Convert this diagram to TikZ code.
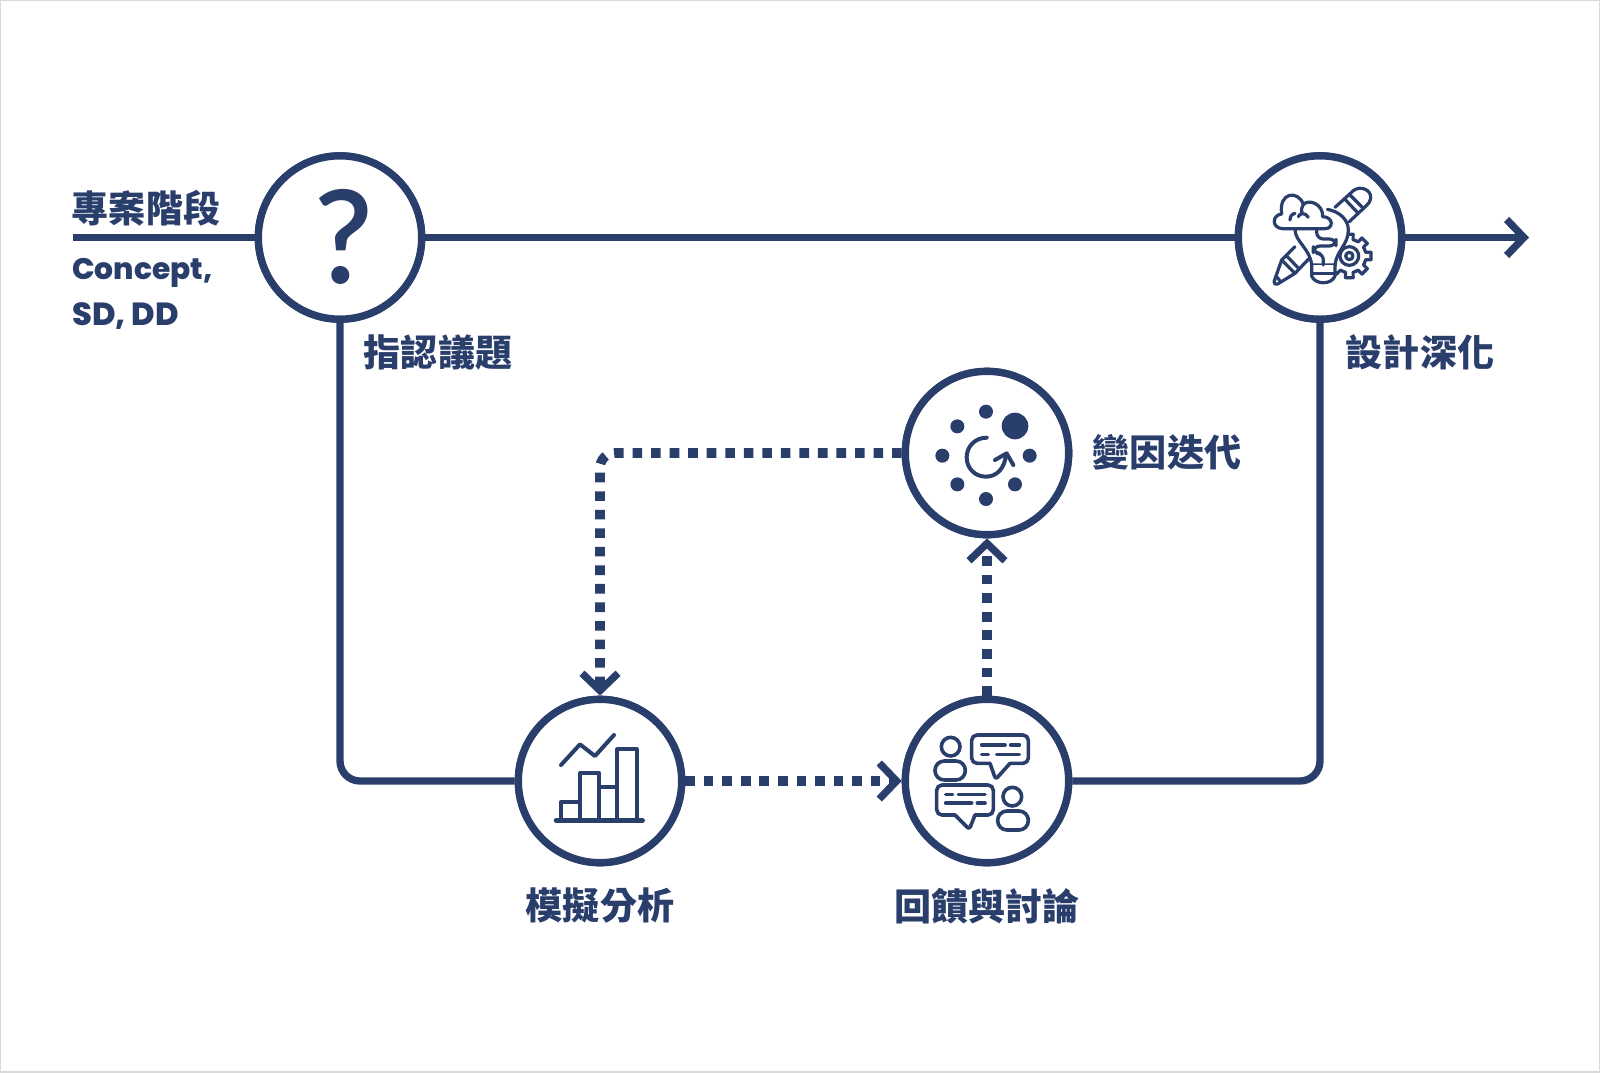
\documentclass[tikz,border=0pt]{standalone}
\usepackage{fontspec}
\usetikzlibrary{arrows.meta}
\newfontfamily\cjkfont{Noto Sans CJK TC}
\newfontfamily\latinfont{Poppins ExtraBold}
\newfontfamily\qfont{Lato Semibold}
\definecolor{navy}{HTML}{2A3E6C}
\tikzset{
  hub/.style={circle,draw=navy,line width=5.5pt,minimum size=122.5pt,inner sep=0pt,fill=white},
  solidline/.style={draw=navy,line width=5.5pt},
  dotline/.style={draw=navy,line width=7.2pt,dash pattern=on 7.2pt off 6.7pt,line cap=butt},
  barb/.style={-{Straight Barb[length=13pt,width=27pt,line width=5.5pt]}},
  zh/.style={font=\cjkfont\bfseries\fontsize{27.8}{32}\selectfont,text=navy,inner sep=0pt},
  en/.style={font=\latinfont\fontsize{22.3}{26}\selectfont,text=navy,inner sep=0pt,anchor=base west},
  zoomed/.style={x=.25pt,y=-.25pt},
  ico/.style={draw=navy,line width=3pt,line cap=round,line join=round},
  icofine/.style={draw=navy,line width=2.7pt,line cap=round,line join=round},
  icothin/.style={draw=navy,line width=2.4pt,line cap=round,line join=round},
}
\begin{document}
\begin{tikzpicture}[x=.75pt,y=-.75pt]
\useasboundingbox (0,0) rectangle (1600,1072);
\fill[white] (0,0) rectangle (1600,1072);
\draw[black!15,line width=1.5pt] (0,0) rectangle (1600,1072);
% hubs
\node[hub] (q) at (340,237.5) {};
\node[hub] (design) at (1320,237.5) {};
\node[hub] (var) at (987,453) {};
\node[hub] (model) at (600,781) {};
\node[hub] (fb) at (987,781) {};
\coordinate (start) at (73,237.5);
\coordinate (end) at (1529,237.5);
% connectors
\draw[solidline] (start) -- (q);
\draw[solidline] (q) -- (design);
\draw[solidline,barb] (design) -- (end);
\draw[solidline,rounded corners=15pt] (q.south) |- (model.west);
\draw[solidline,rounded corners=15pt] (fb.east) -| (design.south);
\draw[dotline,barb] (model.east) -- (fb.west);
\draw[dotline,barb] (fb.north) -- (var.south);
\draw[dotline,barb,rounded corners=11pt] (var.west) -| (model.north);
% redraw hub discs on top of the lines
\node[hub] at (q) {};
\node[hub] at (design) {};
\node[hub] at (var) {};
\node[hub] at (model) {};
\node[hub] at (fb) {};
% question mark
\node[text=navy,inner sep=0pt,font=\qfont\fontsize{97}{97}\selectfont] (qm) at (344,237) {?};
% labels
\node[zh] (l1) at (146,208) {專案階段};
\node[en] (l2) at (72,279) {Concept,};
\node[en,font=\latinfont\fontsize{24}{26}\selectfont] (l3) at (72,325) {SD, DD};
\node[zh] (l4) at (438,353) {指認議題};
\node[zh] (l5) at (1420,352) {設計深化};
\node[zh] (l6) at (1167,452) {變因迭代};
\node[zh] (l7) at (600,906) {模擬分析};
\node[zh] (l8) at (987,906) {回饋與討論};
% icon: iterate
\begin{scope}[shift={(880,350)},zoomed]
  \foreach \p in {(318,185),(232,229),(187,317),(232,403),(318,447),(405,403),(449,317)}
    \fill[navy] \p circle[radius=21];
  \fill[navy] (405,228) circle[radius=40];
  \draw[ico] (320,263) .. controls (285,263) and (260,290) .. (260,322) .. controls (260,355) and (285,380) .. (318,380) .. controls (350,380) and (375,355) .. (378,312);
  \draw[ico] (345,330) -- (380,310) -- (400,345);
\end{scope}
% icon: chart
\begin{scope}[shift={(500,680)},zoomed]
  \draw[ico,line width=3.3pt] (168,421) -- (428,421);
  \draw[ico,line cap=butt,line join=round] (184,421) |- (240,365);
  \draw[ico,line cap=butt] (240,421) |- (298,280) -- (298,421);
  \draw[ico,line cap=butt] (298,322) -| (352,421);
  \draw[ico,line cap=butt] (352,421) |- (410,208) -- (410,421);
  \draw[ico] (183,255) -- (240,193) -- (285,228) -- (342,165);
\end{scope}
% icon: discussion
\begin{scope}[shift={(880,680)},zoomed]
  \draw[icofine] (212,200) circle[radius=28];
  \draw[icofine,rounded corners=7pt] (165,243) rectangle (256,300);
  \draw[icofine] (397,350) circle[radius=28];
  \draw[icofine,rounded corners=7pt] (353,393) rectangle (445,450);
  \draw[icofine,rounded corners=4pt] (330,250) -- (275,250) -- (275,165) -- (445,165) -- (445,250) -- (390,250);
  \draw[icofine,rounded corners=2pt] (330,250) -- (347,298) -- (390,250);
  \draw[icofine] (305,195) -- (375,195) (392,195) -- (418,195) (305,223) -- (325,223) (350,223) -- (418,223);
  \draw[icofine,rounded corners=4pt] (225,405) -- (170,405) -- (170,315) -- (340,315) -- (340,405) -- (285,405);
  \draw[icofine,rounded corners=2pt] (225,405) -- (268,448) -- (285,405);
  \draw[icofine] (197,343) -- (218,343) (235,343) -- (315,343) (197,369) -- (275,369) (292,369) -- (315,369);
\end{scope}
% icon: design
\begin{scope}[shift={(1240,170)},zoomed]
  % gear
  \begin{scope}[shift={(328,258)}]
    \draw[icothin] (0,0) circle[radius=28];
    \draw[icothin] (0,0) circle[radius=11];
    \foreach \a in {-90,-45,0,45,90,135}
      \draw[icothin] (\a-22.5:50) -- (\a-13:50) -- (\a-10:66) -- (\a+10:66) -- (\a+13:50) -- (\a+22.5:50);
  \end{scope}
  % pencil upper right
  \draw[icothin] (285,112) -- (340,62) .. controls (362,45) and (395,60) .. (392,85) .. controls (392,95) and (385,100) .. (378,108) -- (328,155);
  \draw[icothin] (315,88) -- (350,125) (330,75) -- (365,110);
  % pencil lower left
  \draw[icothin] (165,230) -- (125,270) -- (102,335) .. controls (100,342) and (108,344) .. (113,342) -- (165,310) -- (205,268);
  \draw[icothin] (125,270) -- (165,310) (140,258) -- (178,297) (108,318) -- (122,335);
  % bulb
  \draw[fill=white,icothin] (165,178) .. controls (165,215) and (210,235) .. (215,285) -- (285,285) .. controls (290,240) and (325,225) .. (325,180) .. controls (325,150) and (300,125) .. (262,118);
  \draw[icothin,fill=white] (215,285) -- (215,318) .. controls (225,345) and (275,345) .. (285,318) -- (285,285);
  \draw[icothin] (215,310) -- (285,310);
  \draw[icothin,rounded corners=5pt] (230,178) -- (230,207) -- (288,207) -- (288,228) -- (220,228) -- (220,250) -- (250,250) -- (250,285);
  % cloud
  \draw[icothin,fill=white] (128,176) -- (255,176) .. controls (282,176) and (280,140) .. (248,140) .. controls (250,105) and (210,85) .. (190,103) .. controls (175,60) and (115,65) .. (125,132) .. controls (95,135) and (95,175) .. (128,176) -- cycle;
  \draw[icothin] (190,103) .. controls (185,112) and (183,120) .. (185,130);
  \draw[icothin] (150,150) .. controls (150,140) and (155,132) .. (165,130);
  \draw[icothin] (175,140) .. controls (178,130) and (195,125) .. (205,142);
\end{scope}
\end{tikzpicture}
\end{document}
